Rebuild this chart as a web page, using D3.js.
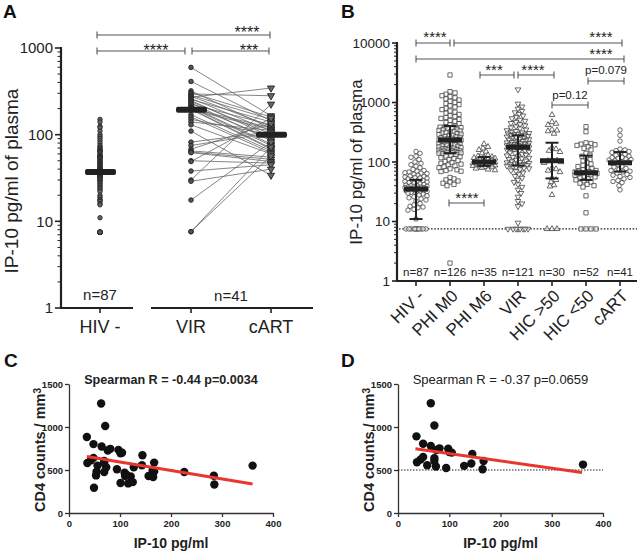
<!DOCTYPE html>
<html><head><meta charset="utf-8">
<script src="https://cdn.jsdelivr.net/npm/d3@7"></script>
<style>
body{margin:0;background:#fff}
svg{display:block}
text{font-family:"Liberation Sans",Arial,sans-serif;fill:#222}
</style>
</head><body>
<svg id="c" width="641" height="553"></svg>
<script>
// ---------------- DATA ----------------
const catsA = ["HIV -", "VIR", "cART"];
const nLabelsA = ["n=87", "n=41"];
const hivNeg = [150,140,125,120,110,100,95,90,85,80,75,72,70,68,66,65,64,62,60,58,57,56,55,54,53,52,50,49,48,47,46,45,44,43,42,41,40,40,39,39,38,38,37,37,37,36,36,36,35,35,34,34,33,33,32,32,31,30,30,29,28,27,26,25,24,23,22,20,19,18,17.5,17,16,15.5,11,7.5,7.5,7.5,7.5,7.5,7.5,7.5,7.5,7.5,7.5,7.5,7.5];
// paired viremic -> cART (same patients)
const virPaired  = [597,411,320,305,295,285,278,270,262,255,248,240,232,225,218,210,205,200,198,195,193,170,160,150,140,130,110,82,75,68,65,63,62,50,49,38,30,29,17.6,7.6,7.6];
const cartPaired = [165,145,118,160,281,150,125,345,110,140,95,102,85,130,90,78,75,120,70,68,115,65,62,100,112,60,34,108,105,135,55,52,49,47,155,45,225,40,82,72,57];
const medA = [37, 194, 100];

const catsB = ["HIV -", "PHI M0", "PHI M6", "VIR", "HIC >50", "HIC <50", "cART"];
const nLabelsB = ["n=87", "n=126", "n=35", "n=121", "n=30", "n=52", "n=41"];
const phiM0 = [2900,1520,1450,1380,1300,1250,1200,1150,1100,1050,1000,960,920,880,840,800,760,720,690,660,630,600,580,560,540,520,500,480,460,440,420,
  400,392,385,378,370,362,355,348,340,333,326,320,313,306,300,294,288,282,276,270,265,260,255,250,246,242,238,236,234,234,232,230,
  228,224,220,216,212,208,204,200,196,192,188,184,180,177,174,171,168,165,162,160,158,156,154,152,150,148,146,145,144,143,142,141,
  138,134,130,126,122,118,114,110,106,102,98,95,92,89,86,83,80,77,74,72,70,69,55,52,50,48,46,44,42,40,2];
const phiM6 = [200,180,170,160,150,140,130,125,122,120,118,115,112,110,108,105,103,100,98,96,95,93,92,90,89,88,87,86,85,83,82,80,78,75,73];
const virAll = [1650,950,850,780,720,680,640,600,570,540,510,490,470,450,430,410,395,380,365,350,340,330,320,312,305,300,295,290,286,283,
  278,272,266,260,255,250,245,240,236,232,228,224,220,216,212,208,205,202,199,196,193,190,188,186,184,182,180,179,178,177,
  175,172,168,164,160,156,152,148,144,140,136,132,128,124,120,117,114,111,108,105,102,100,98,96,94,92,91,90,89,88,
  86,84,82,80,78,75,72,70,66,62,58,54,50,46,42,38,34,30,26,22,20,18,9.5,7.5,7.5,7.5,7.5,7.5,7.5,7.5,7.5];
const hicAbove = [620,470,440,420,350,340,330,300,175,165,155,148,110,106,104,100,97,80,76,72,68,54,50,46,41,39,28,7.5,7.5,7.5];
const hicBelow = [392,323,210,205,200,195,190,180,170,160,140,130,125,118,110,104,98,93,88,84,80,77,74,72,70,69,68,67,66,65,64,63,62,61,60,58,56,54,52,50,48,46,44,42,40,38,27,14,7.5,7.5,7.5,7.5];
const medB  = [35, 234, 100, 177, 105, 66, 97];
const lowB  = [11, 141, 86, 87, 53, 50, 69];
const highB = [50, 403, 121, 281, 211, 128, 147];
const lodB = 7.5;

const ipC  = [63,71,35,48,64,76,81,97,101,36,43,48,56,54,53,69,69,69,73,49,94,101,109,112,116,121,125,127,144,143,156,167,164,167,165,226,284,285,360,104,110];
const cd4C = [1273,1012,883,801,773,727,746,734,695,582,613,641,551,480,437,605,582,477,531,293,508,348,469,449,344,426,359,531,672,555,430,586,496,484,418,477,434,332,551,700,430];
const regC = [[35,656],[360,336]];
const titleC = "Spearman R = -0.44 p=0.0034";

const ipD  = [64,71,36,49,64,75,81,98,100,105,37,44,49,57,71,71,74,94,129,145,143,167,165,361];
const cd4D = [1276,1018,891,806,779,733,752,748,710,702,590,621,652,555,636,605,540,524,548,686,575,605,509,563];
const regD = [[34,748],[359,470]];
const thrD = 500;
const titleD = "Spearman R = -0.37 p=0.0659";

// ---------------- DRAW ----------------
const svg = d3.select("#c");
const dark = "#222";

function panelLetter(t, x, y){
  svg.append("text").attr("x",x).attr("y",y).text(t)
    .style("font-size","19px").style("font-weight","bold").style("fill","#111");
}
function logAxis(g, y, x0, dmin, dmax, fs, majorLen, minorLen){
  const [r0, r1] = y.range();
  g.append("line").attr("x1",x0).attr("x2",x0).attr("y1",r0+1).attr("y2",r1-1)
    .attr("stroke",dark).attr("stroke-width",2.2);
  for (let e = Math.log10(dmin); e <= Math.log10(dmax); e++){
    const v = Math.pow(10,e);
    g.append("line").attr("x1",x0-majorLen).attr("x2",x0).attr("y1",y(v)).attr("y2",y(v))
      .attr("stroke",dark).attr("stroke-width",1.6);
    g.append("text").attr("x",x0-majorLen-2).attr("y",y(v)).attr("dy","0.35em")
      .attr("text-anchor","end").style("font-size",fs+"px").text(d3.format("d")(v));
    if (v < dmax) for (let k=2;k<10;k++){
      g.append("line").attr("x1",x0-minorLen).attr("x2",x0).attr("y1",y(v*k)).attr("y2",y(v*k))
        .attr("stroke",dark).attr("stroke-width",1);
    }
  }
}
function bracket(g, x1, x2, yy, label, lx, fs, ly){
  g.append("line").attr("x1",x1).attr("x2",x2).attr("y1",yy).attr("y2",yy).attr("stroke","#555").attr("stroke-width",1.1);
  [x1,x2].forEach(x=>g.append("line").attr("x1",x).attr("x2",x).attr("y1",yy-3.5).attr("y2",yy+3.5).attr("stroke","#555").attr("stroke-width",1.1));
  g.append("text").attr("x",lx).attr("y",ly).attr("text-anchor","middle")
    .style("font-size",fs+"px").text(label);
}

// ===== Panel A =====
const gA = svg.append("g");
panelLetter("A", 3, 18);
const yA = d3.scaleLog().domain([1,1000]).range([308,48]);
const xA = d3.scaleOrdinal().domain(catsA).range([100,191,271]);
logAxis(gA, yA, 61, 1, 1000, 15, 6, 3.5);
// x axis segments
gA.append("line").attr("x1",60).attr("x2",133).attr("y1",308).attr("y2",308).attr("stroke",dark).attr("stroke-width",2.2);
gA.append("line").attr("x1",151).attr("x2",313).attr("y1",308).attr("y2",308).attr("stroke",dark).attr("stroke-width",2.2);
catsA.forEach(c=>{
  gA.append("line").attr("x1",xA(c)).attr("x2",xA(c)).attr("y1",308).attr("y2",313).attr("stroke",dark).attr("stroke-width",1.6);
  gA.append("text").attr("x",xA(c)).attr("y",333).attr("text-anchor","middle").style("font-size","18px").text(c);
});
gA.append("text").attr("x",xA("HIV -")).attr("y",300).attr("text-anchor","middle").style("font-size","15px").text(nLabelsA[0]);
gA.append("text").attr("x",(xA("VIR")+xA("cART"))/2).attr("y",301).attr("text-anchor","middle").style("font-size","15px").text(nLabelsA[1]);
gA.append("text").attr("transform","translate(18,"+181+") rotate(-90)").attr("text-anchor","middle")
  .style("font-size","19px").text("IP-10 pg/ml of plasma");
// paired lines
virPaired.forEach((v,i)=>{
  gA.append("line").attr("x1",xA("VIR")).attr("x2",xA("cART")).attr("y1",yA(v)).attr("y2",yA(cartPaired[i]))
    .attr("stroke","#666").attr("stroke-width",0.8);
});
// points
hivNeg.forEach(v=>gA.append("circle").attr("cx",xA("HIV -")).attr("cy",yA(v)).attr("r",2.2)
  .attr("fill","#666").attr("stroke","#222").attr("stroke-width",0.9));
virPaired.forEach(v=>gA.append("circle").attr("cx",xA("VIR")).attr("cy",yA(v)).attr("r",2.3)
  .attr("fill","#555").attr("stroke","#222").attr("stroke-width",0.9));
const triDown = d3.symbol().type(d3.symbolTriangle).size(22);
cartPaired.forEach(v=>gA.append("path").attr("d",triDown()).attr("transform","translate("+xA("cART")+","+yA(v)+") rotate(180)")
  .attr("fill","#666").attr("stroke","#222").attr("stroke-width",0.9));
// medians
catsA.forEach((c,i)=>gA.append("rect").attr("x",xA(c)-15).attr("y",yA(medA[i])-3).attr("width",31).attr("height",6)
  .attr("rx",2).attr("fill","#222"));
// brackets
bracket(gA, 97, 270, 35, "****", 247, 16, 37.5);
bracket(gA, 97, 185, 51, "****", 156, 16, 56);
bracket(gA, 192, 269, 51, "***", 249, 16, 56);

// ===== Panel B =====
const gB = svg.append("g");
panelLetter("B", 341, 18);
const yB = d3.scaleLog().domain([1,10000]).range([281,43]);
const xB = d3.scalePoint().domain(catsB).range([416,620]);
logAxis(gB, yB, 397, 1, 10000, 13.5, 5, 3);
gB.append("line").attr("x1",396).attr("x2",637).attr("y1",281).attr("y2",281).attr("stroke",dark).attr("stroke-width",2.2);
// LOD
gB.append("line").attr("x1",399).attr("x2",637).attr("y1",yB(lodB)).attr("y2",yB(lodB))
  .attr("stroke","#222").attr("stroke-width",1.3).attr("stroke-dasharray","1.6,1.6");
catsB.forEach((c,i)=>{
  gB.append("line").attr("x1",xB(c)).attr("x2",xB(c)).attr("y1",281).attr("y2",286).attr("stroke",dark).attr("stroke-width",1.6);
  gB.append("text").attr("transform","translate("+(xB(c)+9)+",297) rotate(-45)").attr("text-anchor","end")
    .style("font-size","17px").text(c);
  gB.append("text").attr("x",xB(c)).attr("y",276).attr("text-anchor","middle").style("font-size","11.5px").text(nLabelsB[i]);
});
gB.append("text").attr("transform","translate(362,162) rotate(-90)").attr("text-anchor","middle")
  .style("font-size","17px").text("IP-10 pg/ml of plasma");

function swarm(vals, cx, y, d, maxOff){
  const pts = vals.map(v=>({v, y:y(v)})).sort((a,b)=>a.y-b.y);
  const placed = [];
  const cands = [0];
  for (let k=1;k<=maxOff;k++){ cands.push(k); cands.push(-k); }
  pts.forEach(p=>{
    let best=null, bestD=-1;
    for (const off of cands){
      const x = cx+off;
      let md = Infinity;
      for (const q of placed){ const dd = Math.hypot(q.x-x,q.y-p.y); if (dd<md) md=dd; }
      if (md>=d){ best=x; break; }
      if (md>bestD){ bestD=md; best=x; }
    }
    p.x=best; placed.push(p);
  });
  return pts;
}
const groupsB = [hivNeg, phiM0, phiM6, virAll, hicAbove, hicBelow, cartPaired];
const symTypes = [d3.symbolCircle, d3.symbolSquare, d3.symbolTriangle, d3.symbolTriangle, d3.symbolTriangle, d3.symbolSquare, d3.symbolCircle];
const symRot = [0,0,0,180,0,0,0];
const symSize = [16,18,14,14,14,18,16];
groupsB.forEach((vals,i)=>{
  const c = catsB[i];
  const pts = swarm(vals, xB(c), yB, 4.2, 11);
  const sym = d3.symbol().type(symTypes[i]).size(symSize[i]);
  gB.selectAll(null).data(pts).enter().append("path").attr("d",sym())
    .attr("transform",p=>"translate("+p.x+","+p.y+") rotate("+symRot[i]+")")
    .attr("fill","white").attr("fill-opacity",0.6).attr("stroke","#444").attr("stroke-width",0.8);
});
// median + error bars
catsB.forEach((c,i)=>{
  const x = xB(c);
  gB.append("line").attr("x1",x).attr("x2",x).attr("y1",yB(lowB[i])).attr("y2",yB(highB[i])).attr("stroke","#222").attr("stroke-width",2);
  [lowB[i],highB[i]].forEach(v=>gB.append("line").attr("x1",x-6.5).attr("x2",x+6.5).attr("y1",yB(v)).attr("y2",yB(v)).attr("stroke","#222").attr("stroke-width",2));
  gB.append("rect").attr("x",x-12).attr("y",yB(medB[i])-2.5).attr("width",24).attr("height",5).attr("fill","#222");
});
// brackets
const bx = i=>xB(catsB[i]);
bracket(gB, bx(0), bx(1), 43, "****", 435, 15, 42);
bracket(gB, bx(1)+4, bx(6)+2, 43, "****", 601, 15, 42);
bracket(gB, bx(0), bx(6)+4, 59, "****", 601, 15, 59);
bracket(gB, bx(2)-4, bx(3)-4, 75, "***", 494, 15, 75);
bracket(gB, bx(3), bx(4)+2, 75, "****", 533, 15, 75);
bracket(gB, bx(5)+2, bx(6)+4, 81, "p=0.079", 606, 11.5, 74);
bracket(gB, bx(4), bx(5)+2, 105, "p=0.12", 570, 11.5, 99);
bracket(gB, bx(1)-1, bx(2), 203, "****", 467, 15, 203);

// ===== Panels C & D =====
function scatterPanel(letter, lx, x0, x1, title, bold, ips, cd4s, reg, thr){
  const g = svg.append("g");
  panelLetter(letter, lx, 367);
  const x = d3.scaleLinear().domain([0,400]).range([x0,x1]);
  const y = d3.scaleLinear().domain([0,1500]).range([513,384]);
  const ax = g.append("g").attr("transform","translate(0,513)")
    .call(d3.axisBottom(x).tickValues([0,100,200,300,400]).tickFormat(d3.format("d")).tickSize(4).tickSizeOuter(0));
  const ay = g.append("g").attr("transform","translate("+x0+",0)")
    .call(d3.axisLeft(y).tickValues([0,500,1000,1500]).tickFormat(d3.format("d")).tickSize(4).tickSizeOuter(0));
  [ax,ay].forEach(a=>{
    a.selectAll("path,line").attr("stroke","#333").attr("stroke-width",1.3);
    a.selectAll("text").style("font-size","9.5px").style("font-weight","bold")
      .style("font-family","'Liberation Sans',Arial,sans-serif").attr("fill","#222");
  });
  ay.selectAll("text").attr("x",-6);
  if (thr!=null) g.append("line").attr("x1",x(0)).attr("x2",x(400)).attr("y1",y(thr)).attr("y2",y(thr))
    .attr("stroke","#222").attr("stroke-width",1.2).attr("stroke-dasharray","1.5,1.5");
  ips.forEach((v,i)=>g.append("circle").attr("cx",x(v)).attr("cy",y(cd4s[i])).attr("r",4.2).attr("fill","#111"));
  g.append("line").attr("x1",x(reg[0][0])).attr("y1",y(reg[0][1])).attr("x2",x(reg[1][0])).attr("y2",y(reg[1][1]))
    .attr("stroke","#e8372e").attr("stroke-width",3);
  g.append("text").attr("x",(x0+x1)/2).attr("y",384).attr("text-anchor","middle")
    .style("font-size",bold?"12.6px":"13px").style("font-weight",bold?"bold":"normal").text(title);
  g.append("text").attr("x",(x0+x1)/2).attr("y",548).attr("text-anchor","middle")
    .style("font-size","14px").style("font-weight","bold").text("IP-10 pg/ml");
  const yl = g.append("text").attr("transform","translate("+(x0-24)+",450) rotate(-90)").attr("text-anchor","middle")
    .style("font-size","14.5px").style("font-weight","bold");
  yl.append("tspan").text("CD4 counts / mm");
  yl.append("tspan").attr("dy","-0.45em").style("font-size","10px").text("3");
}
scatterPanel("C", 4, 69, 273, titleC, true, ipC, cd4C, regC, null);
scatterPanel("D", 341, 398, 603, titleD, false, ipD, cd4D, regD, thrD);
</script>
</body></html>
